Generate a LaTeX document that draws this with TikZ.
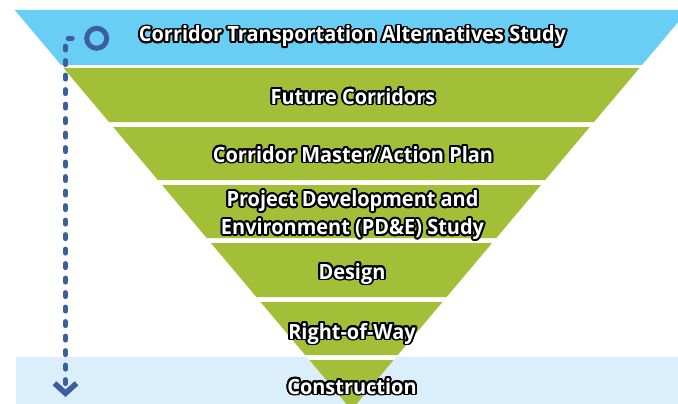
\documentclass[tikz,border=0pt]{standalone}
\usepackage{fontspec}
\usepackage[copies]{contour}
\usepackage{tikz}
\usetikzlibrary{arrows.meta}
\usepackage{xcolor}
\newfontfamily\bandfont{Open Sans}[FakeStretch=0.95]
\definecolor{skyblue}{HTML}{69CEF4}
\definecolor{paleblue}{HTML}{DAEFFB}
\definecolor{leafgreen}{HTML}{A3BE37}
\definecolor{arrowblue}{HTML}{3A5F9E}
\contourlength{1.9pt}
\newcommand{\outl}[1]{\contour{black}{#1}}

\begin{document}
\begin{tikzpicture}[x=1pt,y=-1pt,
		bandlabel/.style={font=\bandfont\bfseries\fontsize{21}{28}\selectfont,text=white,align=center,inner sep=0pt}]
			\useasboundingbox (0,0) rectangle (678,404);
			\clip (0,0) rectangle (678,404);
			\coordinate (apex) at (351.5,410);
			\fill[paleblue] (16,357) rectangle (678,404);
			\fill[white] (14.7,10) -- (688.3,10) -- (apex) -- cycle;
			% funnel bands, half width 0.842*(410-y)
			\foreach \Top/\Bottom/\Couleur in {10/65/skyblue,68/122/leafgreen,127/180/leafgreen,185/238/leafgreen,243/297/leafgreen,302/355/leafgreen,360/410/leafgreen}
			{
				\pgfmathsetmacro\HautDemi{0.842*(410-\Top)}
				\pgfmathsetmacro\BasDemi{0.842*(410-\Bottom)}
				\fill[\Couleur] ({351.5-\HautDemi},\Top) -- ({351.5+\HautDemi},\Top) -- ({351.5+\BasDemi},\Bottom) -- ({351.5-\BasDemi},\Bottom) -- cycle;
			}
			\node[bandlabel,anchor=base] (study) at (352.5,42) {\outl{Corridor Transportation Alternatives Study}};
			\node[bandlabel,anchor=base] (future) at (353,104) {\outl{Future Corridors}};
			\node[bandlabel,anchor=base] (master) at (353,162) {\outl{Corridor Master/Action Plan}};
			\node[bandlabel] (pde) at (352.5,216) {\outl{Project Development and}\\\outl{Environment (PD\&E) Study}};
			\node[bandlabel,anchor=base] (design) at (352,279) {\outl{Design}};
			\node[bandlabel,anchor=base] (row) at (352,339) {\outl{Right-of-Way}};
			\node[bandlabel,anchor=base] (construction) at (352,394) {\outl{Construction}};
			\node[circle,draw=arrowblue,line width=5pt,minimum size=20pt,inner sep=0pt] (start) at (96.7,38.3) {};
			\coordinate (finish) at (65.5,397);
			\draw[arrowblue,line width=5pt,line cap=round,dash pattern=on 4pt off 10.5pt,dash phase=4.5pt,shorten <=2pt,-{Straight Barb[length=10pt,width=22pt,line width=5.5pt]}] (start.west) -| (finish);
		\end{tikzpicture}
\end{document}
